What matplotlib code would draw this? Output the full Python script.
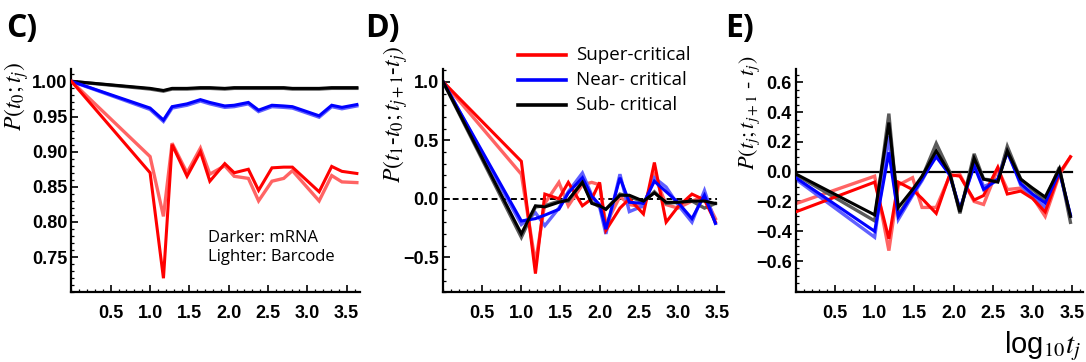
import numpy as np
import matplotlib.pyplot as plt
from matplotlib.ticker import MultipleLocator, FixedLocator

# ---- data ----
# panel C: P(t0;tj)
xC = [0, 1.0, 1.17, 1.28, 1.47, 1.64, 1.76, 1.95, 2.07, 2.25, 2.38, 2.55, 2.7, 2.81, 3.15, 3.31, 3.44, 3.63]
C_red_dark = [1.0, 0.87, 0.72, 0.91, 0.865, 0.90, 0.858, 0.883, 0.87, 0.875, 0.845, 0.877, 0.878, 0.878, 0.843, 0.879, 0.872, 0.869]
C_red_light = [1.0, 0.893, 0.808, 0.912, 0.87, 0.905, 0.868, 0.88, 0.865, 0.862, 0.83, 0.858, 0.862, 0.873, 0.83, 0.866, 0.857, 0.856]
C_blue_dark = [1.0, 0.962, 0.945, 0.964, 0.968, 0.974, 0.970, 0.965, 0.966, 0.970, 0.959, 0.966, 0.965, 0.964, 0.951, 0.966, 0.963, 0.967]
C_blue_light = [1.0, 0.960, 0.943, 0.962, 0.966, 0.972, 0.968, 0.963, 0.964, 0.968, 0.957, 0.964, 0.963, 0.962, 0.949, 0.964, 0.961, 0.965]
C_blk_dark = [1.0, 0.990, 0.987, 0.990, 0.990, 0.991, 0.991, 0.990, 0.991, 0.991, 0.991, 0.991, 0.991, 0.990, 0.990, 0.991, 0.991, 0.991]
C_blk_light = [1.0, 0.989, 0.986, 0.989, 0.989, 0.990, 0.990, 0.989, 0.990, 0.990, 0.990, 0.990, 0.990, 0.989, 0.989, 0.990, 0.990, 0.990]

# panel D: P(t1-t0; tj+1-tj)
xD = [0, 1.0, 1.18, 1.3, 1.48, 1.6, 1.78, 1.9, 2.0, 2.08, 2.26, 2.38, 2.56, 2.7, 2.85, 3.0, 3.18, 3.34, 3.48]
D_red_dark = [1.0, 0.32, -0.64, 0.04, 0.0, 0.14, -0.06, 0.0, 0.14, -0.27, -0.08, 0.0, -0.13, 0.31, -0.20, -0.07, 0.04, -0.01, -0.20]
D_red_light = [1.0, 0.21, -0.55, -0.04, 0.14, -0.06, 0.12, 0.14, 0.12, -0.22, 0.02, -0.05, -0.07, 0.20, -0.05, -0.08, -0.02, 0.02, -0.17]
D_blue_dark = [1.0, -0.19, -0.17, -0.14, -0.09, 0.05, 0.18, 0.02, -0.05, -0.26, 0.18, -0.03, -0.04, 0.15, 0.06, -0.03, -0.17, 0.03, -0.21]
D_blue_light = [1.0, -0.22, -0.12, -0.23, -0.08, 0.06, 0.22, 0.03, -0.07, -0.30, 0.21, -0.11, -0.06, 0.18, 0.10, -0.05, -0.20, 0.07, -0.21]
D_blk_dark = [1.0, -0.30, -0.06, -0.07, -0.03, -0.01, 0.14, -0.04, -0.06, -0.09, 0.03, 0.03, -0.02, 0.05, -0.03, -0.03, -0.02, -0.02, -0.04]
D_blk_light = [1.0, -0.33, -0.07, -0.06, -0.02, -0.02, 0.15, -0.03, -0.07, -0.09, 0.04, 0.02, -0.03, 0.06, -0.04, -0.03, -0.02, -0.08, -0.04]

# panel E: P(tj; tj+1-tj)
xE = [0, 1.0, 1.18, 1.3, 1.48, 1.6, 1.78, 1.95, 2.08, 2.26, 2.38, 2.56, 2.68, 2.85, 3.0, 3.16, 3.34, 3.48]
E_red_dark = [-0.27, -0.07, -0.45, -0.07, -0.12, -0.18, -0.28, -0.02, -0.03, -0.19, -0.16, 0.03, -0.15, -0.13, -0.18, -0.27, -0.01, 0.10]
E_red_light = [-0.215, -0.03, -0.53, -0.09, -0.04, -0.24, -0.24, -0.03, -0.02, -0.20, -0.22, 0.02, -0.12, -0.11, -0.17, -0.30, -0.02, 0.10]
E_blue_dark = [-0.04, -0.40, 0.13, -0.30, -0.15, -0.05, 0.10, -0.02, -0.25, 0.04, -0.12, -0.05, 0.13, -0.08, -0.15, -0.21, 0.0, -0.29]
E_blue_light = [-0.05, -0.44, 0.24, -0.32, -0.16, -0.06, 0.12, -0.02, -0.26, 0.06, -0.10, -0.06, 0.15, -0.09, -0.17, -0.24, 0.01, -0.30]
E_blk_dark = [-0.015, -0.29, 0.33, -0.24, -0.12, -0.03, 0.14, -0.01, -0.27, 0.09, -0.05, -0.07, 0.14, -0.05, -0.11, -0.17, 0.02, -0.30]
E_blk_light = [-0.02, -0.33, 0.39, -0.29, -0.14, -0.04, 0.19, 0.0, -0.28, 0.12, -0.05, -0.06, 0.17, -0.05, -0.12, -0.19, 0.03, -0.34]

x_major = [0.5, 1.0, 1.5, 2.0, 2.5, 3.0, 3.5]

RED, RED_L = '#ff0000', '#ff6464'
BLUE, BLUE_L = '#0000ff', '#6060ff'
BLK, BLK_L = '#000000', '#5a5a5a'

plt.rcParams['font.family'] = ['Liberation Sans Narrow', 'Liberation Sans', 'DejaVu Sans']
plt.rcParams['mathtext.fontset'] = 'stix'

fig = plt.figure(figsize=(10.86, 3.62), dpi=100)


def style_axes(ax, xlim, ylim, ymajor, yminor, yfmt):
    ax.set_xlim(*xlim)
    ax.set_ylim(*ylim)
    for s in ['top', 'right']:
        ax.spines[s].set_visible(False)
    ax.spines['left'].set_linewidth(1.6)
    ax.spines['bottom'].set_linewidth(1.6)
    ax.xaxis.set_major_locator(FixedLocator(x_major))
    ax.xaxis.set_minor_locator(MultipleLocator(0.1))
    ax.yaxis.set_major_locator(FixedLocator(ymajor))
    ax.yaxis.set_minor_locator(MultipleLocator(yminor))
    ax.set_xticklabels(['%.1f' % v for v in x_major])
    ax.set_yticklabels([yfmt(v) for v in ymajor])
    ax.tick_params(which='major', direction='in', length=5, width=1.2,
                   labelsize=13, pad=3)
    ax.tick_params(which='minor', direction='in', length=2.5, width=0.9)
    ax.tick_params(axis='x', which='major', pad=9)
    for lab in ax.get_xticklabels() + ax.get_yticklabels():
        lab.set_fontweight('bold')
    ax.patch.set_alpha(0)


def pair(ax, x, light, dark, cl, cd):
    ax.plot(x, light, color=cl, lw=2.4, solid_joinstyle='miter', zorder=2)
    ax.plot(x, dark, color=cd, lw=2.2, solid_joinstyle='miter', zorder=3)


# ---- panel C ----
axC = fig.add_axes([0.0658, 0.1925, 0.2657, 0.617])
pair(axC, xC, C_blk_light, C_blk_dark, BLK_L, BLK)
pair(axC, xC, C_blue_light, C_blue_dark, BLUE_L, BLUE)
pair(axC, xC, C_red_light, C_red_dark, RED_L, RED)
style_axes(axC, (0, 3.67), (0.70, 1.0176),
           [0.75, 0.80, 0.85, 0.90, 0.95, 1.00], 0.01, lambda v: '%.2f' % v)
axC.text(1.74, 0.764, 'Darker: mRNA\nLighter: Barcode', fontsize=12,
         family='Open Sans', linespacing=1.3, va='center', ha='left')

# ---- panel D ----
axD = fig.add_axes([0.408, 0.1925, 0.2587, 0.617])
axD.plot([0, 3.5], [0, 0], color='black', lw=1.4, ls=(0, (3, 2)), zorder=1)
pair(axD, xD, D_red_light, D_red_dark, RED_L, RED)
pair(axD, xD, D_blue_light, D_blue_dark, BLUE_L, BLUE)
pair(axD, xD, D_blk_light, D_blk_dark, BLK_L, BLK)
style_axes(axD, (0, 3.59), (-0.80, 1.11),
           [-0.5, 0.0, 0.5, 1.0], 0.1, lambda v: '%.1f' % v if v >= 0 else '\u2212%.1f' % -v)

# ---- panel E ----
axE = fig.add_axes([0.7327, 0.1925, 0.2646, 0.617])
axE.plot([0, 3.5], [0, 0], color='black', lw=1.6, zorder=1)
pair(axE, xE, E_red_light, E_red_dark, RED_L, RED)
pair(axE, xE, E_blue_light, E_blue_dark, BLUE_L, BLUE)
pair(axE, xE, E_blk_light, E_blk_dark, BLK_L, BLK)
style_axes(axE, (0, 3.64), (-0.81, 0.69),
           [-0.6, -0.4, -0.2, 0.0, 0.2, 0.4, 0.6], 0.05,
           lambda v: '%.1f' % v if v >= 0 else '\u2212%.1f' % -v)

# ---- y labels ----
fig.text(0.015, 0.735, r'$P(t_0;t_j)$', rotation=90, fontsize=17,
         ha='center', va='center')
fig.text(0.364, 0.685, r'$P(t_1\text{-}t_0;t_{j+1}\text{-}t_j)$', rotation=90,
         fontsize=17, ha='center', va='center')
fig.text(0.690, 0.688, r'$P(t_j;t_{j+1}\ \text{-}\ t_j)$', rotation=90,
         fontsize=16, ha='center', va='center')

# ---- panel letters ----
for xp, lab in [(0.006, 'C)'), (0.336, 'D)'), (0.668, 'E)')]:
    fig.text(xp, 0.92, lab, fontsize=23, fontweight='bold', family='Open Sans',
             ha='left', va='center')

# ---- legend in D ----
leg_items = [('Super-critical', RED), ('Near- critical', BLUE), ('Sub- critical', BLK)]
for i, (name, col) in enumerate(leg_items):
    yy = 0.848 - i * 0.069
    fig.add_artist(plt.Line2D([0.477, 0.521], [yy, yy], color=col, lw=2.6,
                              transform=fig.transFigure))
    fig.text(0.530, yy, name, fontsize=13.5, family='Open Sans', va='center', ha='left')

# ---- x label ----
fig.text(0.995, 0.045, r'$\mathregular{log}_{10}t_j$', fontsize=21,
         ha='right', va='center')

fig.savefig('out.png', dpi=100)
